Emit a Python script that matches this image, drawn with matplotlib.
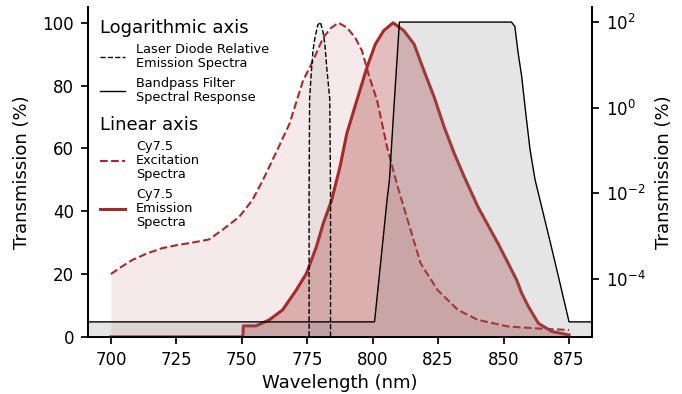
import matplotlib
matplotlib.use("Agg")
import matplotlib.pyplot as plt

# Cy7.5 spectra (linear axis, %)
exc_x = [700, 704, 708, 713.6, 719.4, 725.2, 731, 737.4, 742.5, 749, 754, 758, 764.4, 768.2,
         773.4, 777.2, 781.1, 784, 786.9, 790.1, 793.3, 795.9, 798.4, 801.7, 805.5, 809.4,
         814.5, 818.3, 824.8, 832.5, 840.2, 851.8, 864.6, 875]
exc_y = [20.0, 22.3, 24.4, 26.5, 28.2, 29.2, 30.0, 31.0, 34.0, 38.2, 43.5, 49.8, 61.0, 67.8,
         81.6, 87.9, 95.3, 98.3, 100.0, 98.5, 95.3, 91.1, 83.7, 75.2, 60.4, 48.2,
         34.0, 23.4, 14.9, 8.6, 5.4, 3.3, 2.6, 2.2]

em_x = [700, 750.4, 750.6, 755.4, 760.5, 765.6, 770.8, 774.7, 778.5, 781.1, 784.3, 787.5,
        790.1, 793.9, 797.8, 801, 804.2, 807.8, 811.9, 815.8, 819.6, 823.5, 827.3, 831.2,
        835, 840.2, 847.9, 855, 856.9, 859.5, 863.3, 868.5, 875]
em_y = [0, 0, 3.5, 3.5, 5.4, 8.6, 14.9, 20.2, 28.7, 36.1, 43.5, 54.1,
        64.7, 75.2, 85.8, 93.2, 97.5, 100.0, 97.5, 93.2, 84.7, 76.3, 66.8, 58.3,
        50.9, 41.4, 29.7, 18.1, 13.9, 9.6, 4.3, 1.7, 0.6]

# laser diode and bandpass filter (log axis, %)
las_x = [690, 775.6, 775.7, 775.9, 776.5, 777.2, 778, 779, 780, 781, 781.7, 782.5,
         783.6, 783.9, 784, 890]
las_y = [0, 0, 0.008, 1.6, 6, 22, 45, 85, 100, 60, 32, 8,
         1.6, 0.008, 0, 0]

bp_x = [650, 800.7, 803, 805.5, 806.4, 808, 810.2, 853, 854.3, 855.5, 856.9, 858.5,
        860.1, 862, 865, 868, 871, 875, 920]
bp_y = [1e-5, 1e-5, 2.3e-4, 7.2e-3, 0.021, 0.8, 100, 100, 79, 20, 5.4, 0.71,
        0.105, 0.021, 3.7e-3, 6.5e-4, 1.1e-4, 1e-5, 1e-5]

red = "#a52a2a"

plt.rcParams["axes.linewidth"] = 1.25
for axis in ("xtick", "ytick"):
    plt.rcParams[axis + ".major.width"] = 1.25
    plt.rcParams[axis + ".major.size"] = 5
    plt.rcParams[axis + ".major.pad"] = 5

fig, ax = plt.subplots(figsize=(6.82, 3.94), dpi=100)
fig.subplots_adjust(left=0.129, right=0.868, top=0.982, bottom=0.145)
ax2 = ax.twinx()

ax.fill_between(exc_x, 0, exc_y, color=red, alpha=0.1, lw=0)
exc_line, = ax.plot(exc_x, exc_y, color=red, ls="--", lw=1.5)
ax.fill_between(em_x, 0, em_y, color=red, alpha=0.3, lw=0)
em_line, = ax.plot(em_x, em_y, color=red, lw=2.2)

ax2.set_yscale("log")
ax2.fill_between(las_x, 1e-9, las_y, color="gray", alpha=0.1, lw=0)
las_line, = ax2.plot(las_x, las_y, color="black", ls="--", lw=1)
ax2.fill_between(bp_x, 1e-9, bp_y, color="gray", alpha=0.2, lw=0)
bp_line, = ax2.plot(bp_x, bp_y, color="black", lw=1)

ax.set_xlim(691.25, 883.75)
ax.set_ylim(0, 105)
ax2.set_ylim(10 ** -5.35, 10 ** 2.35)
ax.set_xticks([700, 725, 750, 775, 800, 825, 850, 875])
ax.set_yticks([0, 20, 40, 60, 80, 100])
ax2.set_yticks([1e-4, 1e-2, 1, 1e2])
ax2.minorticks_off()

for a in (ax, ax2):
    a.spines["top"].set_visible(False)
    a.tick_params(labelsize=12)
ax.set_xlabel("Wavelength (nm)", fontsize=13)
ax.set_ylabel("Transmission (%)", fontsize=13)
ax2.set_ylabel("Transmission (%)", fontsize=13)
ax.yaxis.set_label_coords(-0.113, 0.5)
ax2.yaxis.set_label_coords(1.125, 0.5)

leg1 = ax2.legend([las_line, bp_line],
                  ["Laser Diode Relative\nEmission Spectra", "Bandpass Filter\nSpectral Response"],
                  title="Logarithmic axis", title_fontsize=13, fontsize=9.3, alignment="left",
                  frameon=False, loc="upper left", bbox_to_anchor=(0.0, 1.0))
ax2.add_artist(leg1)
leg2 = ax2.legend([exc_line, em_line],
                  ["Cy7.5\nExcitation\nSpectra", "Cy7.5\nEmission\nSpectra"],
                  title="Linear axis", title_fontsize=13, fontsize=9.3, alignment="left",
                  frameon=False, loc="upper left", bbox_to_anchor=(0.0, 0.706))
for leg in (leg1, leg2):
    for t in leg.get_texts():
        t.set_linespacing(1.1)

fig.savefig("out.png", dpi=100)
